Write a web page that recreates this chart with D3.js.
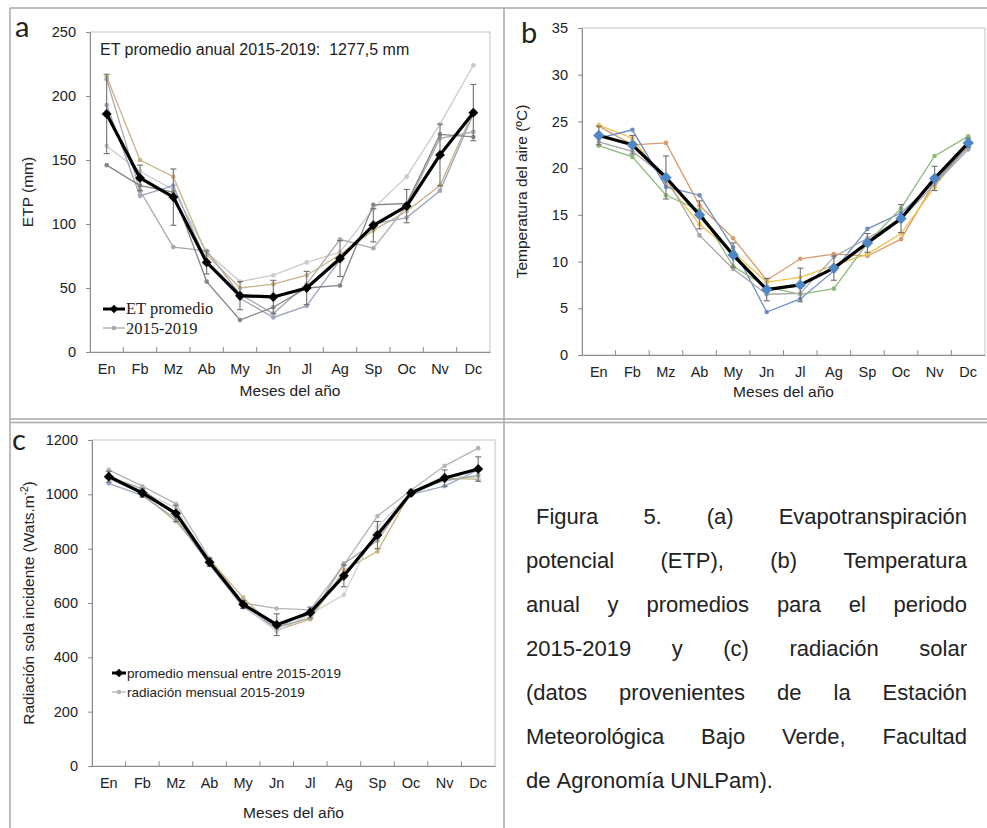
<!DOCTYPE html>
<html>
<head>
<meta charset="utf-8">
<script src="https://cdn.jsdelivr.net/npm/d3@7"></script>
<style>
  html, body { margin: 0; padding: 0; background: #fff; }
  svg { display: block; font-family: "Liberation Sans", Arial, sans-serif; }
  text { fill: #222; }
</style>
</head>
<body>
<svg id="fig" width="987" height="828"></svg>
<script>
// Months of the year (x categories shared by the three panels)
const months = ["En","Fb","Mz","Ab","My","Jn","Jl","Ag","Sp","Oc","Nv","Dc"];

// (a) Potential evapotranspiration, mm
const etpTicks = [0, 50, 100, 150, 200, 250];
const etpMean = [186, 136, 121, 70, 44, 43, 50, 73, 99, 114, 154, 187];
const etpSd   = [31, 10, 22, 9, 11, 13, 13, 14, 13, 13, 24, 22];
const etp2015 = [161, 141, 127, 78, 55, 60, 70, 78, 112, 137, 178, 224];
const etp2016 = [215, 150, 137, 76, 50, 53, 60, 76, 95, 110, 130, 188];
const etp2017 = [193, 122, 130, 70, 42, 27, 36, 72, 100, 105, 126, 186];
const etp2018 = [213, 126, 82, 79, 45, 30, 53, 88, 81, 114, 167, 172];
const etp2019 = [146, 130, 125, 55, 25, 35, 50, 52, 115, 116, 170, 168];

// (b) Air temperature, ºC
const tempTicks = [0, 5, 10, 15, 20, 25, 30, 35];
const tempMean = [23.5, 22.5, 19.0, 15.0, 10.7, 7.0, 7.5, 9.3, 12.0, 14.6, 18.9, 22.7];
const tempSd   = [1.0, 1.0, 2.3, 1.5, 1.3, 1.2, 1.8, 1.3, 1.0, 1.5, 1.3, 0.5];
const temp2015 = [24.5, 22.5, 22.7, 16.0, 12.5, 8.0, 10.3, 10.8, 10.6, 12.4, 18.5, 22.5];
const temp2016 = [24.6, 23.2, 18.5, 14.0, 11.0, 7.8, 8.3, 9.6, 10.8, 13.0, 18.0, 22.6];
const temp2017 = [23.2, 24.1, 18.0, 17.1, 11.5, 4.6, 6.0, 9.0, 13.5, 15.2, 18.5, 22.3];
const temp2018 = [22.4, 21.2, 17.1, 15.5, 9.5, 7.3, 6.5, 7.1, 12.0, 15.7, 21.3, 23.4];
const temp2019 = [22.8, 21.8, 19.0, 12.8, 9.2, 6.5, 6.6, 10.5, 12.5, 14.5, 18.3, 22.0];

// (c) Incident solar radiation, W·m-2
const radTicks = [0, 200, 400, 600, 800, 1000, 1200];
const radMean = [1065, 1005, 930, 750, 595, 520, 565, 700, 850, 1005, 1060, 1093];
const radSd   = [20, 15, 30, 15, 15, 40, 20, 40, 50, 10, 30, 45];
const rad2015 = [1090, 1030, 965, 765, 600, 580, 575, 740, 920, 1015, 1105, 1170];
const rad2016 = [1075, 1000, 900, 760, 620, 500, 540, 720, 790, 1010, 1060, 1055];
const rad2017 = [1040, 995, 910, 740, 585, 505, 575, 700, 860, 1000, 1030, 1090];
const rad2018 = [1055, 1010, 950, 745, 590, 495, 560, 630, 880, 1005, 1070, 1060];
const rad2019 = [1065, 1020, 920, 755, 595, 510, 545, 745, 830, 1010, 1050, 1070];

const captionLines = [
  "Figura 5. (a) Evapotranspiración",
  "potencial (ETP), (b) Temperatura",
  "anual y promedios para el periodo",
  "2015-2019 y (c) radiación solar",
  "(datos provenientes de la Estación",
  "Meteorológica Bajo Verde, Facultad",
  "de Agronomía UNLPam)."
];

const svg = d3.select("#fig");
const gridColor = "#a8a8a8";
const SANS = "'Liberation Sans', Arial, sans-serif";
const SERIF = "'Liberation Serif', 'Times New Roman', serif";
const LETTER = "Lato, 'Open Sans', sans-serif";

// Table grid lines around the panels
const grid = svg.append("g").attr("stroke", gridColor).attr("stroke-width", 1.5).attr("fill", "none");
grid.append("line").attr("x1", 10).attr("x2", 987).attr("y1", 8).attr("y2", 8);
grid.append("line").attr("x1", 10).attr("x2", 10).attr("y1", 8).attr("y2", 828);
grid.append("line").attr("x1", 504).attr("x2", 504).attr("y1", 8).attr("y2", 828);
grid.append("line").attr("x1", 10).attr("x2", 987).attr("y1", 419).attr("y2", 419);
grid.append("line").attr("x1", 10).attr("x2", 987).attr("y1", 422.5).attr("y2", 422.5);

const diamond = (g, cx, cy, s, fill, stroke) =>
  g.append("rect").attr("x", cx - s / 2).attr("y", cy - s / 2).attr("width", s).attr("height", s)
    .attr("transform", `rotate(45 ${cx} ${cy})`).attr("fill", fill).attr("stroke", stroke || "none");

function drawPanel(o) {
  const g = svg.append("g");
  const x = d3.scaleBand().domain(months).range([o.left, o.right]);
  const cx = m => x(m) + x.bandwidth() / 2;
  const y = d3.scaleLinear().domain([0, o.yMax]).range([o.bottom, o.top]);

  // plot frame
  g.append("rect").attr("x", o.left).attr("y", o.top)
    .attr("width", o.right - o.left).attr("height", o.bottom - o.top)
    .attr("fill", "none").attr("stroke", "#c4c4c4").attr("stroke-width", 1);

  // y axis
  const ya = g.append("g").attr("transform", `translate(${o.left},0)`)
    .call(d3.axisLeft(y).tickValues(o.ticks).tickSize(4).tickPadding(10).tickFormat(d3.format("d")));
  ya.select(".domain").attr("stroke", "#8c8c8c");
  ya.selectAll(".tick line").attr("stroke", "#8c8c8c");
  ya.selectAll(".tick text").attr("fill", "#222")
    .style("font-size", "14.5px").style("font-family", SANS);

  // x axis: labels centred in each month, tick marks between months pointing inward
  const xa = g.append("g").attr("transform", `translate(0,${o.bottom})`)
    .call(d3.axisBottom(x).tickSize(0).tickPadding(12));
  xa.select(".domain").attr("stroke", "#8c8c8c");
  xa.selectAll(".tick text").attr("fill", "#222")
    .style("font-size", "14.5px").style("font-family", SANS);
  g.append("g").selectAll("line").data(months.slice(1)).join("line")
    .attr("x1", m => x(m)).attr("x2", m => x(m))
    .attr("y1", o.bottom).attr("y2", o.bottom - 5)
    .attr("stroke", "#8c8c8c");

  // axis titles
  g.append("text").attr("x", (o.left + o.right) / 2).attr("y", o.bottom + o.xTitleDy)
    .attr("text-anchor", "middle").style("font-size", "15.5px").text("Meses del año");
  const yt = g.append("text")
    .attr("transform", `translate(${o.yTitleX},${(o.top + o.bottom) / 2}) rotate(-90)`)
    .attr("text-anchor", "middle").style("font-size", "15.5px").text(o.yTitle);
  if (o.yTitleSup) {
    yt.append("tspan").style("font-size", "10px").attr("dy", -6).text(o.yTitleSup);
    yt.append("tspan").attr("dy", 6).text(")");
  }

  // panel letter
  g.append("text").attr("x", o.letterX).attr("y", o.letterY)
    .style("font-family", LETTER).style("font-size", "29px")
    .text(o.letter);

  const line = d3.line().x((d, i) => cx(months[i])).y(d => y(d));

  // individual years
  o.years.forEach((s, k) => {
    g.append("path").datum(s).attr("d", line).attr("fill", "none")
      .attr("stroke", o.yearColors[k]).attr("stroke-width", 1.3);
    g.append("g").selectAll("circle").data(s).join("circle")
      .attr("cx", (d, i) => cx(months[i])).attr("cy", d => y(d)).attr("r", 2.3)
      .attr("fill", o.yearColors[k]);
  });

  // error bars (mean ± sd)
  const eb = g.append("g").attr("stroke", "#6f6f6f").attr("stroke-width", 1.1);
  o.mean.forEach((m, i) => {
    const px = cx(months[i]);
    eb.append("line").attr("x1", px).attr("x2", px).attr("y1", y(m - o.sd[i])).attr("y2", y(m + o.sd[i]));
    eb.append("line").attr("x1", px - 3).attr("x2", px + 3).attr("y1", y(m - o.sd[i])).attr("y2", y(m - o.sd[i]));
    eb.append("line").attr("x1", px - 3).attr("x2", px + 3).attr("y1", y(m + o.sd[i])).attr("y2", y(m + o.sd[i]));
  });

  // mean line
  g.append("path").datum(o.mean).attr("d", line).attr("fill", "none")
    .attr("stroke", "#000").attr("stroke-width", 3.2).attr("stroke-linejoin", "round");
  o.mean.forEach((m, i) => diamond(g, cx(months[i]), y(m), o.markerSize, o.markerColor));

  return { g, x, y };
}

// (a) ETP
const pa = drawPanel({
  left: 90, right: 490, top: 32, bottom: 352, yMax: 250, ticks: etpTicks,
  mean: etpMean, sd: etpSd,
  years: [etp2015, etp2016, etp2017, etp2018, etp2019],
  yearColors: ["#cacaca", "#c7b487", "#9ea5bd", "#a9a9a9", "#858585"],
  markerColor: "#000", markerSize: 7,
  yTitle: "ETP (mm)", yTitleX: 33, xTitleDy: 44,
  letter: "a", letterX: 15, letterY: 37
});
pa.g.append("text").attr("x", 100).attr("y", 55)
  .style("font-size", "16px").style("white-space", "pre")
  .text("ET promedio anual 2015-2019:  1277,5 mm");
{
  const lg = pa.g.append("g");
  lg.append("line").attr("x1", 103).attr("x2", 125).attr("y1", 309).attr("y2", 309)
    .attr("stroke", "#000").attr("stroke-width", 3);
  diamond(lg, 114, 309, 6, "#000");
  lg.append("text").attr("x", 126).attr("y", 314)
    .style("font-family", SERIF).style("font-size", "16.5px").text("ET promedio");
  lg.append("line").attr("x1", 103).attr("x2", 125).attr("y1", 328).attr("y2", 328)
    .attr("stroke", "#a9a9a9").attr("stroke-width", 1.3);
  lg.append("circle").attr("cx", 114).attr("cy", 328).attr("r", 2.3).attr("fill", "#a9a9a9");
  lg.append("text").attr("x", 126).attr("y", 333.5)
    .style("font-family", SERIF).style("font-size", "16.5px").text("2015-2019");
}

// (b) air temperature
drawPanel({
  left: 582, right: 985, top: 28, bottom: 355, yMax: 35, ticks: tempTicks,
  mean: tempMean, sd: tempSd,
  years: [temp2015, temp2016, temp2017, temp2018, temp2019],
  yearColors: ["#d99a6c", "#eec24a", "#6d8ec6", "#8fb97a", "#a6a6a6"],
  markerColor: "#4f86c6", markerSize: 8,
  yTitle: "Temperatura del aire (ºC)", yTitleX: 527, xTitleDy: 42,
  letter: "b", letterX: 521, letterY: 43
});

// (c) solar radiation
const pc = drawPanel({
  left: 92, right: 495, top: 440, bottom: 766, yMax: 1200, ticks: radTicks,
  mean: radMean, sd: radSd,
  years: [rad2015, rad2016, rad2017, rad2018, rad2019],
  yearColors: ["#b5b5b5", "#c8b37e", "#9aa8c0", "#d2d2d2", "#a3a3a3"],
  markerColor: "#000", markerSize: 7,
  yTitle: "Radiación sola incidente (Wats.m", yTitleSup: "-2", yTitleX: 34, xTitleDy: 52,
  letter: "c", letterX: 12, letterY: 450
});
{
  const lg = pc.g.append("g");
  lg.append("line").attr("x1", 112).attr("x2", 126).attr("y1", 673).attr("y2", 673)
    .attr("stroke", "#000").attr("stroke-width", 3);
  diamond(lg, 119, 673, 6, "#000");
  lg.append("text").attr("x", 127).attr("y", 678).style("font-size", "13.5px")
    .text("promedio mensual entre 2015-2019");
  lg.append("line").attr("x1", 112).attr("x2", 126).attr("y1", 692).attr("y2", 692)
    .attr("stroke", "#b5b5b5").attr("stroke-width", 1.3);
  lg.append("circle").attr("cx", 119).attr("cy", 692).attr("r", 2.3).attr("fill", "#b5b5b5");
  lg.append("text").attr("x", 127).attr("y", 697).style("font-size", "13.5px")
    .text("radiación mensual 2015-2019");
}

// Caption, justified between two margins (last line flush left)
{
  const cap = svg.append("g").style("font-size", "22px").style("font-family", SANS);
  const x0 = 526, x1 = 967, y0 = 524, lh = 44;
  captionLines.forEach((ln, li) => {
    const words = ln.split(" ");
    const start = li === 0 ? x0 + 10 : x0;
    const texts = words.map(w => cap.append("text").attr("y", y0 + li * lh).text(w));
    const widths = texts.map(t => t.node().getComputedTextLength());
    const total = d3.sum(widths);
    const last = li === captionLines.length - 1;
    const gap = last ? 6.1 : (x1 - start - total) / (words.length - 1);
    let cur = start;
    texts.forEach((t, i) => { t.attr("x", cur); cur += widths[i] + gap; });
  });
}
</script>
</body>
</html>
